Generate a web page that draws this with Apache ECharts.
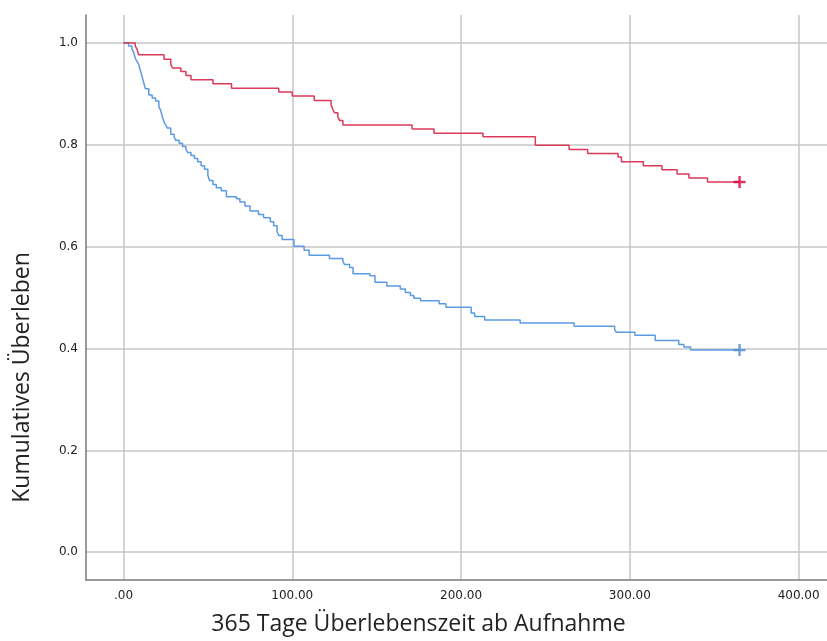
<!DOCTYPE html>
<html>
<head>
<meta charset="utf-8">
<script src="https://cdn.jsdelivr.net/npm/echarts@6/dist/echarts.min.js"></script>
<style>
html,body{margin:0;padding:0;background:#fff;}
#chart{width:827px;height:641px;}
</style>
</head>
<body>
<div id="chart"></div>
<script>
// Kaplan-Meier step data (time in days, cumulative survival after event)
var redTimes = [0, 7, 8, 9, 24, 28, 29, 34, 37, 40, 53, 64, 92, 100, 113, 123, 124, 125, 127, 128, 130, 171, 184, 213, 244, 264, 275, 293, 295, 308, 319, 328, 335, 346, 365];
var redSurv  = [1.000, 0.994, 0.988, 0.977, 0.968, 0.959, 0.951, 0.944, 0.936, 0.928, 0.920, 0.911, 0.904, 0.896, 0.887, 0.879, 0.870, 0.863, 0.855, 0.848, 0.839, 0.831, 0.823, 0.816, 0.799, 0.791, 0.783, 0.776, 0.767, 0.759, 0.751, 0.743, 0.735, 0.727, 0.727];

var blueTimes = [0, 3, 5, 6, 7, 8, 9, 10, 11, 12, 13, 15, 17, 19, 21, 22, 23, 24, 25, 26, 28, 30, 31, 33, 35, 37, 38, 40, 42, 44, 46, 48, 50, 51, 53, 55, 58, 61, 67, 69, 72, 75, 80, 83, 87, 89, 91, 92, 94, 101, 107, 110, 122, 130, 131, 134, 136, 146, 149, 156, 164, 167, 170, 172, 176, 187, 191, 206, 208, 214, 235, 267, 291, 292, 303, 315, 329, 332, 336, 365];
var blueSurv  = [1.000, 0.994, 0.988, 0.982, 0.970, 0.964, 0.958, 0.946, 0.934, 0.922, 0.910, 0.898, 0.892, 0.886, 0.874, 0.868, 0.856, 0.845, 0.839, 0.833, 0.821, 0.815, 0.809, 0.803, 0.797, 0.791, 0.785, 0.779, 0.773, 0.767, 0.759, 0.752, 0.740, 0.730, 0.722, 0.716, 0.710, 0.698, 0.694, 0.688, 0.680, 0.670, 0.663, 0.657, 0.649, 0.641, 0.630, 0.622, 0.614, 0.601, 0.593, 0.583, 0.577, 0.571, 0.565, 0.559, 0.547, 0.543, 0.530, 0.523, 0.517, 0.510, 0.504, 0.499, 0.494, 0.488, 0.481, 0.470, 0.463, 0.456, 0.450, 0.444, 0.437, 0.432, 0.426, 0.416, 0.408, 0.403, 0.397, 0.397];

// censored observations (+ markers)
var redCensor = [[365, 0.727]];
var blueCensor = [[365, 0.397]];

var xTicks = [0, 100, 200, 300, 400];
var yTicks = [0, 0.2, 0.4, 0.6, 0.8, 1.0];

var xTitle = '365 Tage Überlebenszeit ab Aufnahme';
var yTitle = 'Kumulatives Überleben';

function zip(a, b) { return a.map(function (v, i) { return [v, b[i]]; }); }

var redColor = '#dc3a5a';
var blueColor = '#5a9be3';
var plusPath = 'path://M4,0H6V4H10V6H6V10H4V6H0V4H4Z';

var chart = echarts.init(document.getElementById('chart'), null, {renderer: 'canvas'});
chart.setOption({
  animation: false,
  backgroundColor: '#ffffff',
  grid: {left: 86, right: 0, top: 15, bottom: 56, containLabel: false},
  xAxis: {
    type: 'value',
    min: -22.2, max: 416.8,
    name: xTitle,
    nameLocation: 'middle',
    nameGap: 33,
    nameTextStyle: {fontFamily: 'Open Sans', fontSize: 23, color: '#222', padding: [0, 76, 0, 0]},
    axisLine: {show: true, onZero: false, lineStyle: {color: '#7a7a7a', width: 1.5}},
    axisTick: {show: false, customValues: xTicks},
    axisLabel: {
      customValues: xTicks, margin: 10,
      fontFamily: 'DejaVu Sans', fontSize: 12, color: '#222',
      formatter: function (v) { return v === 0 ? '.00' : v.toFixed(2); }
    },
    splitLine: {show: true, lineStyle: {color: '#c6c6c6', width: 1.5}}
  },
  yAxis: {
    type: 'value',
    min: -0.0545, max: 1.055,
    name: yTitle,
    nameLocation: 'middle',
    nameGap: 52,
    nameRotate: 90,
    nameTextStyle: {fontFamily: 'Open Sans', fontSize: 23, color: '#222', padding: [0, 160, 0, 0]},
    axisLine: {show: true, onZero: false, lineStyle: {color: '#7a7a7a', width: 1.5}},
    axisTick: {show: false, customValues: yTicks},
    axisLabel: {
      customValues: yTicks, margin: 8,
      fontFamily: 'DejaVu Sans', fontSize: 12, color: '#222',
      formatter: function (v) { return v.toFixed(1); }
    },
    splitLine: {show: true, lineStyle: {color: '#c6c6c6', width: 1.5}}
  },
  series: [
    {type: 'line', step: 'end', data: zip(blueTimes, blueSurv), symbol: 'none',
     lineStyle: {color: blueColor, width: 1.5}, z: 3},
    {type: 'line', step: 'end', data: zip(redTimes, redSurv), symbol: 'none',
     lineStyle: {color: redColor, width: 1.5}, z: 4},
    {type: 'scatter', data: blueCensor, symbol: plusPath, symbolSize: 12,
     itemStyle: {color: '#4a8ad8'}, z: 5},
    {type: 'scatter', data: redCensor, symbol: plusPath, symbolSize: 12,
     itemStyle: {color: '#d4003a'}, z: 6}
  ]
});
</script>
</body>
</html>
